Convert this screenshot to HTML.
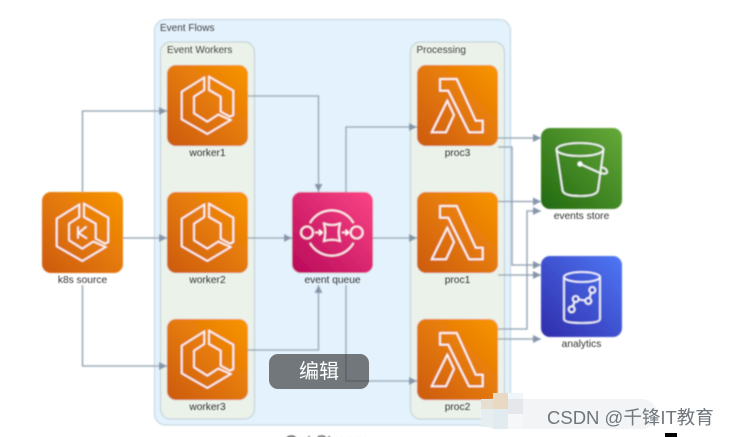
<!DOCTYPE html>
<html><head><meta charset="utf-8"><style>
html,body{margin:0;padding:0;background:#fff;width:729px;height:437px;overflow:hidden}
svg{position:absolute;left:0;top:0}
text{font-family:"Liberation Sans","Noto Sans CJK SC",sans-serif}
</style></head><body>
<svg width="729" height="437" viewBox="0 0 729 437" xmlns="http://www.w3.org/2000/svg">
<defs>
<linearGradient id="o" x1="0" y1="1" x2="1" y2="0"><stop offset="0" stop-color="#cc5a12"/><stop offset="1" stop-color="#f99500"/></linearGradient>
<linearGradient id="p" x1="0" y1="1" x2="1" y2="0"><stop offset="0" stop-color="#b8095a"/><stop offset="1" stop-color="#fb4585"/></linearGradient>
<linearGradient id="g" x1="0" y1="1" x2="1" y2="0"><stop offset="0" stop-color="#21690f"/><stop offset="1" stop-color="#66a93a"/></linearGradient>
<linearGradient id="b" x1="0" y1="1" x2="1" y2="0"><stop offset="0" stop-color="#2e2cab"/><stop offset="1" stop-color="#4f78f5"/></linearGradient>
<marker id="a" markerUnits="userSpaceOnUse" markerWidth="9" markerHeight="8" refX="8" refY="4" orient="auto"><path d="M0 0L8 4L0 8z" fill="#8496a8"/></marker>
<filter id="s" x="-2%" y="-2%" width="104%" height="104%"><feGaussianBlur stdDeviation="0.7"/></filter>
<filter id="t" x="-5%" y="-20%" width="110%" height="140%"><feGaussianBlur stdDeviation="0.45"/></filter>
<g id="ecs" fill="none" stroke="#fff" stroke-width="1.6" stroke-linejoin="miter">
<path d="M37.3 12.5L14.7 26.7V54.3L40.3 69L63.7 55L51.3 49.5L40.3 56.7L27 48.3V31.7L37.3 25z"/>
<path d="M42 11.7L66.3 25.7V50L63 51.7L53.7 46.7V31.7L42 25z"/>
</g>
<g id="lam" fill="none" stroke="#fff" stroke-width="1.7" stroke-linejoin="miter">
<path d="M23 14H39.7L58.7 55.7H65.7V67.3H52L31.3 25.7H23z"/>
<path d="M30.3 35.7L37 50L29 67.3H14.7z"/>
</g>
</defs>
<g filter="url(#s)">
<rect x="154.500" y="19.500" width="356" height="405.500" rx="11" fill="#e3f2fc" stroke="#bfd0db"/>
<rect x="160.500" y="42" width="94" height="377" rx="10" fill="#ebf2ea" stroke="#bccbd0"/>
<rect x="410.500" y="42" width="94" height="377" rx="10" fill="#ebf2ea" stroke="#bccbd0"/>

<g fill="none" stroke="#8a9bab" stroke-width="1.3" marker-end="url(#a)">
<path d="M82.500 192V111H167"/>
<path d="M123 238H167"/>
<path d="M82.500 285V366H167"/>
<path d="M248 96H318.500V192"/>
<path d="M248 238H292"/>
<path d="M248 350H318.500V285"/>
<path d="M346 192V127H417"/>
<path d="M373 238H417"/>
<path d="M346 285V381H417"/>
<path d="M498 138H541"/>
<path d="M498 147H512V265H541"/>
<path d="M498 201.500H541"/>
<path d="M498 275H541"/>
<path d="M498 329H527V211H541"/>
<path d="M498 339H541"/>
</g>

<g>
<g transform="translate(42,192)"><rect width="81" height="81" rx="9" fill="url(#o)"/><use href="#ecs"/><path d="M36 34.500V46.500M44.500 34.500L36.500 41L45 46.500" fill="none" stroke="#fff" stroke-width="1.6"/></g>
<g transform="translate(167,65)"><rect width="81" height="81" rx="9" fill="url(#o)"/><use href="#ecs"/></g>
<g transform="translate(167,192)"><rect width="81" height="81" rx="9" fill="url(#o)"/><use href="#ecs"/></g>
<g transform="translate(167,319)"><rect width="81" height="81" rx="9" fill="url(#o)"/><use href="#ecs"/></g>
<g transform="translate(417,65)"><rect width="81" height="81" rx="9" fill="url(#o)"/><use href="#lam"/></g>
<g transform="translate(417,192)"><rect width="81" height="81" rx="9" fill="url(#o)"/><use href="#lam"/></g>
<g transform="translate(417,319)"><rect width="81" height="81" rx="9" fill="url(#o)"/><use href="#lam"/></g>

<g transform="translate(292,192)"><rect width="81" height="81" rx="9" fill="url(#p)"/>
<g fill="none" stroke="#fff" stroke-width="1.6">
<path d="M18 31A25 25 0 0 1 61.500 31"/>
<path d="M18 51A25 25 0 0 0 61.500 51"/>
<circle cx="15" cy="40.500" r="6"/>
<circle cx="64.700" cy="40.500" r="6"/>
<path d="M32 31.500Q40 34.500 48 31.500Q45.500 40.500 48 49Q40 46.500 32 49Q34.500 40.500 32 31.500z"/>
<path d="M23 40.500H29.500M27 38L30 40.500L27 43M50 40.500H56M53.500 38L56.500 40.500L53.500 43"/>
</g></g>

<g transform="translate(541,128)"><rect width="81" height="81" rx="9" fill="url(#g)"/>
<g fill="none" stroke="#fff" stroke-width="1.6">
<ellipse cx="39" cy="21.500" rx="23.500" ry="6.500"/>
<path d="M15.500 21.500L21.500 62Q22 68 39 68Q56 68 57 62L62.500 21.500"/>
<path d="M39 36L59 45Q67 47 66 43Q65 40 60 39"/>
</g><circle cx="39" cy="36" r="2.500" fill="#fff"/></g>

<g transform="translate(541,256)"><rect width="81" height="81" rx="9" fill="url(#b)"/>
<g fill="none" stroke="#fff" stroke-width="1.6">
<ellipse cx="41" cy="21" rx="18" ry="5"/>
<path d="M23 21V63Q23 67 41 67Q59 67 59 63V21"/>
<path d="M30.700 53.300L34.700 43L47.300 45L51.300 34"/>
<circle cx="30.700" cy="53.300" r="3" fill="#3a45c4"/>
<circle cx="34.700" cy="43" r="3" fill="#3a45c4"/>
<circle cx="47.300" cy="45" r="3" fill="#3a45c4"/>
<circle cx="51.300" cy="34" r="3" fill="#3a45c4"/>
</g></g>
</g>
<text x="327" y="447" font-size="16.500" fill="#333" text-anchor="middle">Out Stream</text>
</g>

<g filter="url(#t)">
<text x="160" y="31" font-size="10" fill="#444">Event Flows</text>
<text x="167" y="53" font-size="10" fill="#444">Event Workers</text>
<text x="416.500" y="53" font-size="10" fill="#444">Processing</text>
<g font-size="10.200" fill="#333" text-anchor="middle">
<text x="82.500" y="283">k8s source</text>
<text x="207.500" y="156">worker1</text>
<text x="207.500" y="283">worker2</text>
<text x="207.500" y="410">worker3</text>
<text x="332.500" y="283">event queue</text>
<text x="457.500" y="156">proc3</text>
<text x="457.500" y="283">proc1</text>
<text x="457.500" y="410">proc2</text>
<text x="581.500" y="219">events store</text>
<text x="581.500" y="347">analytics</text>
</g>
</g>

<rect x="269" y="354" width="100" height="35" rx="9" fill="#6a7073" fill-opacity="0.95"/>
<path d="M346 354V381H369" fill="none" stroke="#596169" stroke-width="1.300"/>
<text x="319" y="378" font-size="20" fill="#fff" text-anchor="middle">编辑</text>

<g>
<rect x="480" y="399" width="177" height="30" rx="15" fill="#f3f4f5"/>
<rect x="493" y="393" width="15" height="16" fill="#ead9c2"/>
<rect x="508" y="393" width="15" height="16" fill="#f1f6fa"/>
<rect x="481" y="399" width="12" height="10" fill="#e6ded0"/>
<rect x="493" y="409" width="15" height="20" fill="#e2ebf0"/>
<rect x="481" y="409" width="12" height="18" fill="#e6eef2"/>
<rect x="508" y="399" width="15" height="15" fill="#e6e7ea"/>
<rect x="508" y="414" width="15" height="15" fill="#f6f7f9"/>
</g>
<text x="547" y="424" font-size="18.500" fill="#6f767c">CSDN @千锋IT教育</text>
<rect x="665" y="433" width="12" height="4" fill="#000"/>
</svg>
</body></html>
